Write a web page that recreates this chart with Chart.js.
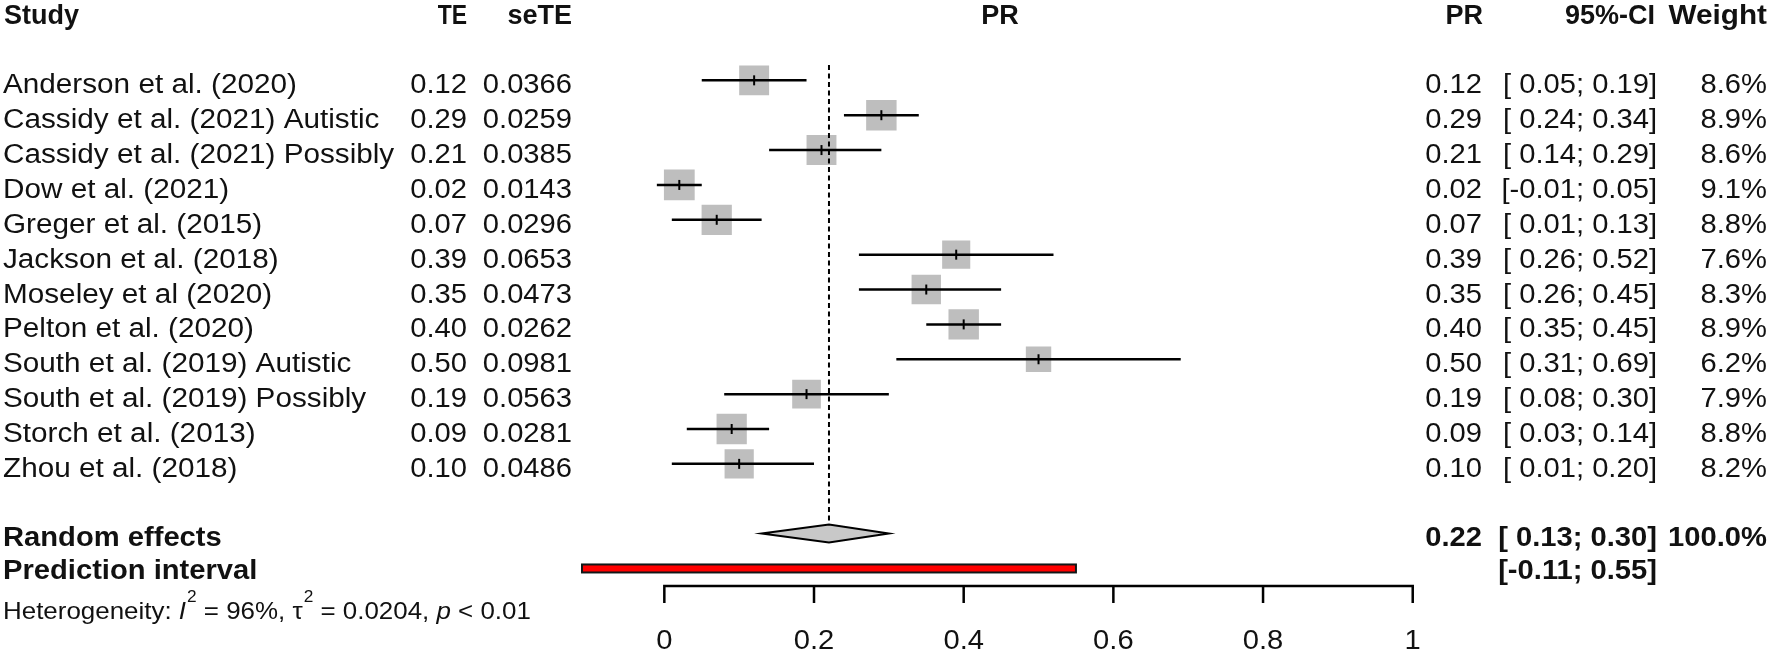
<!DOCTYPE html>
<html lang="en">
<head>
<meta charset="UTF-8">
<title>Forest plot - PR</title>
<script src="https://cdn.jsdelivr.net/npm/chart.js"></script>
<style>
    html, body { margin: 0; padding: 0; background: #fff; }
    #wrap { width: 1771px; height: 653px; }
</style>
</head>
<body>
<div id="wrap"><canvas id="forest" width="1771" height="653"></canvas></div>
<script>
// study rows
const studies = [
    "Anderson et al. (2020)",
    "Cassidy et al. (2021) Autistic",
    "Cassidy et al. (2021) Possibly",
    "Dow et al. (2021)",
    "Greger et al. (2015)",
    "Jackson et al. (2018)",
    "Moseley et al (2020)",
    "Pelton et al. (2020)",
    "South et al. (2019) Autistic",
    "South et al. (2019) Possibly",
    "Storch et al. (2013)",
    "Zhou et al. (2018)"
];
const te      = [0.12, 0.29, 0.21, 0.02, 0.07, 0.39, 0.35, 0.40, 0.50, 0.19, 0.09, 0.10];
const seTE    = [0.0366, 0.0259, 0.0385, 0.0143, 0.0296, 0.0653, 0.0473, 0.0262, 0.0981, 0.0563, 0.0281, 0.0486];
const ciLow   = [0.05, 0.24, 0.14, -0.01, 0.01, 0.26, 0.26, 0.35, 0.31, 0.08, 0.03, 0.01];
const ciHigh  = [0.19, 0.34, 0.29, 0.05, 0.13, 0.52, 0.45, 0.45, 0.69, 0.30, 0.14, 0.20];
const weights = [8.6, 8.9, 8.6, 9.1, 8.8, 7.6, 8.3, 8.9, 6.2, 7.9, 8.8, 8.2];

// pooled estimate [est, lower, upper] and prediction interval [lower, upper]
const randomEffects = [0.22, 0.13, 0.30];
const predInterval  = [-0.11, 0.55];
const totalWeight = "100.0%";
const heterogeneity = { i2: "96%", tau2: "0.0204", p: "< 0.01" };

const xTicks = [0, 0.2, 0.4, 0.6, 0.8, 1];
const xTickLabels = ["0", "0.2", "0.4", "0.6", "0.8", "1"];

const reRow = studies.length + 1;   // one blank row before the summary
const piRow = studies.length + 2;

const FONT = "'Liberation Sans', Arial, sans-serif";
const STRETCH = 1.08; // text in the picture is a bit wider than plain Arial

function fmtCI(lo, hi) {
    const f = v => (v < 0 ? "-" : " ") + Math.abs(v).toFixed(2);
    return "[" + f(lo) + "; " + hi.toFixed(2) + "]";
}

function drawText(ctx, s, x, y, align, font, sx) {
    ctx.save();
    ctx.font = font;
    ctx.translate(x, y);
    ctx.scale(sx || STRETCH, 1);
    ctx.textAlign = align || "left";
    ctx.textBaseline = "alphabetic";
    ctx.fillText(s, 0, 0);
    const w = ctx.measureText(s).width * (sx || STRETCH);
    ctx.restore();
    return w;
}

const forestPlugin = {
    id: "forest",
    afterDatasetsDraw(chart) {
        const ctx = chart.ctx;
        const xs = chart.scales.x, ys = chart.scales.y;
        const X = v => xs.getPixelForValue(v);
        const Y = v => ys.getPixelForValue(v);

        ctx.save();
        ctx.strokeStyle = "#000";
        ctx.lineCap = "butt";

        // confidence intervals + estimate tick
        for (let i = 0; i < studies.length; i++) {
            const y = Y(i);
            ctx.lineWidth = 2.5;
            ctx.beginPath();
            ctx.moveTo(X(ciLow[i]), y);
            ctx.lineTo(X(ciHigh[i]), y);
            ctx.stroke();
            ctx.lineWidth = 2;
            ctx.beginPath();
            ctx.moveTo(X(te[i]), y - 5);
            ctx.lineTo(X(te[i]), y + 5);
            ctx.stroke();
        }

        // dashed line at pooled estimate
        ctx.lineWidth = 2;
        ctx.setLineDash([5, 3.5]);
        ctx.beginPath();
        ctx.moveTo(X(randomEffects[0]), Y(-0.44));
        ctx.lineTo(X(randomEffects[0]), Y(reRow) - 9);
        ctx.stroke();
        ctx.setLineDash([]);

        // diamond
        const dy = Y(reRow);
        ctx.beginPath();
        ctx.moveTo(X(randomEffects[1]), dy);
        ctx.lineTo(X(randomEffects[0]), dy - 9);
        ctx.lineTo(X(randomEffects[2]), dy);
        ctx.lineTo(X(randomEffects[0]), dy + 9);
        ctx.closePath();
        ctx.fillStyle = "#c8c8c8";
        ctx.fill();
        ctx.lineWidth = 2;
        ctx.stroke();

        // prediction interval bar
        const py = Y(piRow);
        const px0 = X(predInterval[0]), px1 = X(predInterval[1]);
        ctx.fillStyle = "#ff0000";
        ctx.fillRect(px0, py - 4, px1 - px0, 8);
        ctx.lineWidth = 2;
        ctx.strokeStyle = "#101818";
        ctx.strokeRect(px0, py - 4, px1 - px0, 8);

        // x axis
        const ay = Y(piRow + 0.5);
        ctx.strokeStyle = "#000";
        ctx.lineWidth = 2.5;
        ctx.beginPath();
        ctx.moveTo(X(xTicks[0]), ay + 17);
        ctx.lineTo(X(xTicks[0]), ay);
        ctx.lineTo(X(xTicks[xTicks.length - 1]), ay);
        ctx.lineTo(X(xTicks[xTicks.length - 1]), ay + 17);
        ctx.stroke();
        ctx.beginPath();
        for (let k = 1; k < xTicks.length - 1; k++) {
            ctx.moveTo(X(xTicks[k]), ay);
            ctx.lineTo(X(xTicks[k]), ay + 17);
        }
        ctx.stroke();

        ctx.fillStyle = "#111";
        const f27 = "27px " + FONT;
        const b27 = "bold 27px " + FONT;
        xTicks.forEach((t, k) => drawText(ctx, xTickLabels[k], X(t), 649, "center", f27));

        // headers
        const hy = 24;
        drawText(ctx, "Study", 4, hy, "left", b27, 1.0);
        drawText(ctx, "TE", 467, hy, "right", b27, 0.85);
        drawText(ctx, "seTE", 572, hy, "right", b27, 1.0);
        drawText(ctx, "PR", 1000, hy, "center", b27, 1.0);
        drawText(ctx, "PR", 1483, hy, "right", b27, 1.0);
        drawText(ctx, "95%-CI", 1655, hy, "right", b27, 1.0);
        drawText(ctx, "Weight", 1767, hy, "right", b27, 1.1);

        // study rows
        for (let i = 0; i < studies.length; i++) {
            const by = Y(i) + 13;
            drawText(ctx, studies[i], 3, by, "left", f27, 1.1);
            drawText(ctx, te[i].toFixed(2), 467, by, "right", f27);
            drawText(ctx, seTE[i].toFixed(4), 572, by, "right", f27);
            drawText(ctx, te[i].toFixed(2), 1482, by, "right", f27);
            drawText(ctx, fmtCI(ciLow[i], ciHigh[i]), 1657, by, "right", f27);
            drawText(ctx, weights[i].toFixed(1) + "%", 1767, by, "right", f27);
        }

        // summary rows
        const ry = Y(reRow) + 12;
        drawText(ctx, "Random effects", 3, ry, "left", b27);
        drawText(ctx, randomEffects[0].toFixed(2), 1482, ry, "right", b27);
        drawText(ctx, fmtCI(randomEffects[1], randomEffects[2]), 1657, ry, "right", b27);
        drawText(ctx, totalWeight, 1767, ry, "right", b27);
        const pry = Y(piRow) + 11;
        drawText(ctx, "Prediction interval", 3, pry, "left", b27);
        drawText(ctx, fmtCI(predInterval[0], predInterval[1]), 1657, pry, "right", b27);

        // heterogeneity line
        const hb = 619;
        const n24 = "24px " + FONT, i24 = "italic 24px " + FONT, s16 = "16px " + FONT;
        let x = 3;
        x += drawText(ctx, "Heterogeneity: ", x, hb, "left", n24);
        x += drawText(ctx, "I", x, hb, "left", i24);
        x += drawText(ctx, "2", x + 1, hb - 17, "left", s16) + 1;
        x += drawText(ctx, " = " + heterogeneity.i2 + ", ", x, hb, "left", n24);
        x += drawText(ctx, "\u03c4", x, hb, "left", n24);
        x += drawText(ctx, "2", x + 1, hb - 17, "left", s16) + 1;
        x += drawText(ctx, " = " + heterogeneity.tau2 + ", ", x, hb, "left", n24);
        x += drawText(ctx, "p", x, hb, "left", i24);
        drawText(ctx, " " + heterogeneity.p, x, hb, "left", n24);

        ctx.restore();
    }
};

new Chart(document.getElementById("forest"), {
    type: "scatter",
    data: {
        datasets: [{
            label: "Studies",
            data: te.map((v, i) => ({ x: v, y: i })),
            pointStyle: "rect",
            pointRadius: weights.map(w => 10.2 * Math.sqrt(w) / Math.SQRT2),
            pointHoverRadius: weights.map(w => 10.2 * Math.sqrt(w) / Math.SQRT2),
            backgroundColor: "#bebebe",
            borderWidth: 0
        }]
    },
    options: {
        responsive: false,
        animation: false,
        devicePixelRatio: 1,
        layout: { autoPadding: false, padding: { left: 28.2, right: 21.5, top: 10.6, bottom: 14.8 } },
        scales: {
            x: { type: "linear", min: -0.85, max: 1.45, display: false },
            y: { type: "linear", min: -2, max: 16, reverse: true, display: false }
        },
        plugins: {
            legend: { display: false },
            tooltip: { enabled: false }
        }
    },
    plugins: [forestPlugin]
});
</script>
</body>
</html>
